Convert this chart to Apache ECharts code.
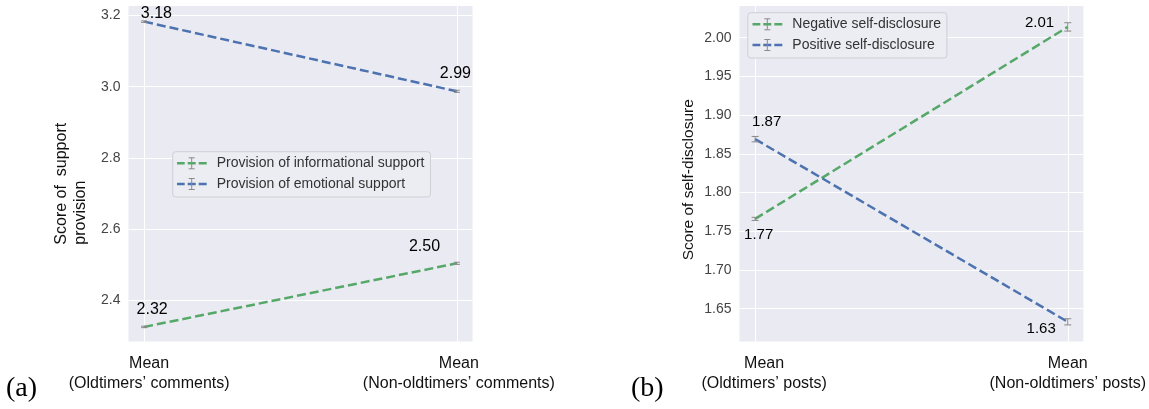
<!DOCTYPE html>
<html><head><meta charset="utf-8">
<script src="https://cdn.jsdelivr.net/npm/echarts@6/dist/echarts.min.js"></script>
<style>html,body{margin:0;padding:0;background:#fff}#c{width:1149px;height:409px}</style>
</head><body><div id="c"></div>
<script>
// ---------- data ----------
const xPositions = [0, 1];
const categoriesA = ['Mean\n(Oldtimers\u2019 comments)', 'Mean\n(Non-oldtimers\u2019 comments)'];
const categoriesB = ['Mean\n(Oldtimers\u2019 posts)', 'Mean\n(Non-oldtimers\u2019 posts)'];
const informational = [2.324, 2.503];
const informationalErr = [0.002, 0.003];
const emotional = [3.183, 2.987];
const emotionalErr = [0.002, 0.003];
const negative = [1.766, 2.014];
const negativeErr = [0.002, 0.0054];
const positive = [1.869, 1.633];
const positiveErr = [0.0035, 0.004];
const yTicksA = [2.4, 2.6, 2.8, 3.0, 3.2];
const yTicksB = [1.65, 1.70, 1.75, 1.80, 1.85, 1.90, 1.95, 2.00];
const namesA = ['Provision of informational support', 'Provision of emotional support'];
const namesB = ['Negative self-disclosure', 'Positive self-disclosure'];

// ---------- styles ----------
const GREEN = '#55A868', BLUE = '#4C72B0', ERR = '#8a8a8a', BG = '#EAEAF2';
const FONT = '"Liberation Sans", Arial, sans-serif';

function iconSvg(color) {
  const s = '<svg xmlns="http://www.w3.org/2000/svg" width="35" height="14" viewBox="0 0 35 14">' +
    '<line x1="0" y1="7" x2="30" y2="7" stroke="' + color + '" stroke-width="2.5" stroke-dasharray="8 3"/>' +
    '<path d="M15 1.5V12.5M12 1.5H18M12 12.5H18" stroke="' + ERR + '" stroke-width="1" fill="none"/></svg>';
  return 'image://data:image/svg+xml;charset=utf-8,' + encodeURIComponent(s);
}

function lineSeries(name, vals, color, gi, offsets, fs) {
  return {
    type: 'line', name: name, xAxisIndex: gi, yAxisIndex: gi, silent: true,
    symbol: 'circle', symbolSize: 1, itemStyle: { color: 'transparent' },
    lineStyle: { color: color, width: 2.5, type: [9, 4] },
    emphasis: { disabled: true },
    label: { show: true, position: 'inside', fontSize: fs, fontFamily: FONT, color: '#000',
      formatter: p => p.value[1].toFixed(2) },
    data: vals.map((v, i) => ({ value: [xPositions[i], v], label: { offset: offsets[i] } })),
    z: 2
  };
}

function errSeries(vals, errs, gi, cap) {
  return {
    type: 'custom', xAxisIndex: gi, yAxisIndex: gi, silent: true, z: 3,
    encode: { x: 0, y: 1 },
    data: vals.map((v, i) => [xPositions[i], v, errs[i]]),
    renderItem: function (params, api) {
      const x = api.value(0), y = api.value(1), e = api.value(2);
      const hi = api.coord([x, y + e]), lo = api.coord([x, y - e]);
      const st = { stroke: ERR, lineWidth: 1 };
      return { type: 'group', children: [
        { type: 'line', shape: { x1: hi[0], y1: hi[1], x2: lo[0], y2: lo[1] }, style: st },
        { type: 'line', shape: { x1: hi[0] - cap, y1: hi[1], x2: hi[0] + cap, y2: hi[1] }, style: st },
        { type: 'line', shape: { x1: lo[0] - cap, y1: lo[1], x2: lo[0] + cap, y2: lo[1] }, style: st }
      ]};
    }
  };
}

function xAxis(gi, cats, shifts) {
  return {
    type: 'value', gridIndex: gi, min: -0.05, max: 1.05,
    axisLine: { show: false },
    axisTick: { show: false, customValues: xPositions },
    splitLine: { show: true, lineStyle: { color: '#fff', width: 1 } },
    axisLabel: {
      customValues: xPositions, margin: 12,
      formatter: v => {
        const i = xPositions.indexOf(v);
        return cats[i].split('\n').map(t => '{c' + i + '|' + t + '}').join('\n');
      },
      rich: {
        c0: { align: 'center', fontSize: 16, lineHeight: 20, fontFamily: FONT, color: '#111', padding: [0, 0, 0, shifts[0]] },
        c1: { align: 'center', fontSize: 16, lineHeight: 20, fontFamily: FONT, color: '#111', padding: [0, 0, 0, shifts[1]] }
      }
    }
  };
}

function yAxis(gi, mn, mx, ticks, dec, name, nameGap, namePad) {
  return {
    type: 'value', gridIndex: gi, min: mn, max: mx,
    axisLine: { show: false },
    axisTick: { show: false, customValues: ticks },
    splitLine: { show: true, lineStyle: { color: '#fff', width: 1 } },
    axisLabel: { customValues: ticks, margin: 8, fontSize: 14, fontFamily: FONT, color: '#444',
      formatter: v => v.toFixed(dec) },
    name: name, nameLocation: 'middle', nameGap: nameGap,
    nameTextStyle: { fontFamily: FONT, color: '#111', padding: namePad,
      rich: { a: { align: 'left', fontSize: 16, lineHeight: 19, fontFamily: FONT, color: '#111' },
              b: { align: 'left', fontSize: 15.5, lineHeight: 19, fontFamily: FONT, color: '#111' } } }
  };
}

function legend(left, top, names, colors, pad) {
  return {
    left: left, top: top, orient: 'vertical', padding: pad, itemGap: 6.7,
    itemWidth: 35, itemHeight: 14, selectedMode: false,
    backgroundColor: '#ECECF3', borderColor: '#cfcfd4', borderWidth: 1, borderRadius: 3,
    textStyle: { fontSize: 14, fontFamily: FONT, color: '#333', lineHeight: 14, padding: [0, 0, 0, 0] },
    data: names.map((n, i) => ({ name: n, icon: iconSvg(colors[i]) }))
  };
}

const option = {
  animation: false,
  grid: [
    { left: 128.5, top: 6, width: 344, height: 335.5, show: true, backgroundColor: BG, borderWidth: 0 },
    { left: 739.5, top: 6, width: 344, height: 335.5, show: true, backgroundColor: BG, borderWidth: 0 }
  ],
  xAxis: [xAxis(0, categoriesA, [10, 4]), xAxis(1, categoriesB, [18, 0])],
  yAxis: [
    yAxis(0, 2.283, 3.227, yTicksA, 1, '{a|Score of  support}\n{a|provision}', 38, [0, 20, 0, 0]),
    yAxis(1, 1.6076, 2.041, yTicksB, 2, '{b|Score of self-disclosure}', 41, [0, 12, 0, 0])
  ],
  legend: [
    legend(172.7, 151.7, namesA, [GREEN, BLUE], [4.6, 6, 6, 4]),
    legend(747.8, 12.7, namesB, [GREEN, BLUE], [4.6, 6, 6, 4.5])
  ],
  series: [
    lineSeries(namesA[0], informational, GREEN, 0, [[8, -16.9], [-32.4, -16.8]], 16),
    lineSeries(namesA[1], emotional, BLUE, 0, [[12.3, -8.4], [-1.5, -18.2]], 16),
    lineSeries(namesB[0], negative, GREEN, 1, [[3.5, 15.8], [-28.2, -4.2]], 15),
    lineSeries(namesB[1], positive, BLUE, 1, [[11.5, -16.8], [-26.6, 6.6]], 15),
    errSeries(informational, informationalErr, 0, 3),
    errSeries(emotional, emotionalErr, 0, 3),
    errSeries(negative, negativeErr, 1, 3.5),
    errSeries(positive, positiveErr, 1, 3.5)
  ],
  graphic: [
    { type: 'text', left: 6, top: 374.5, style: { text: '(a)', font: '28px "Liberation Serif", "Times New Roman", serif', fill: '#000' } },
    { type: 'text', left: 631, top: 374.5, style: { text: '(b)', font: '28px "Liberation Serif", "Times New Roman", serif', fill: '#000' } }
  ]
};

const chart = echarts.init(document.getElementById('c'), null, { renderer: 'canvas' });
chart.setOption(option);
</script>
</body></html>
